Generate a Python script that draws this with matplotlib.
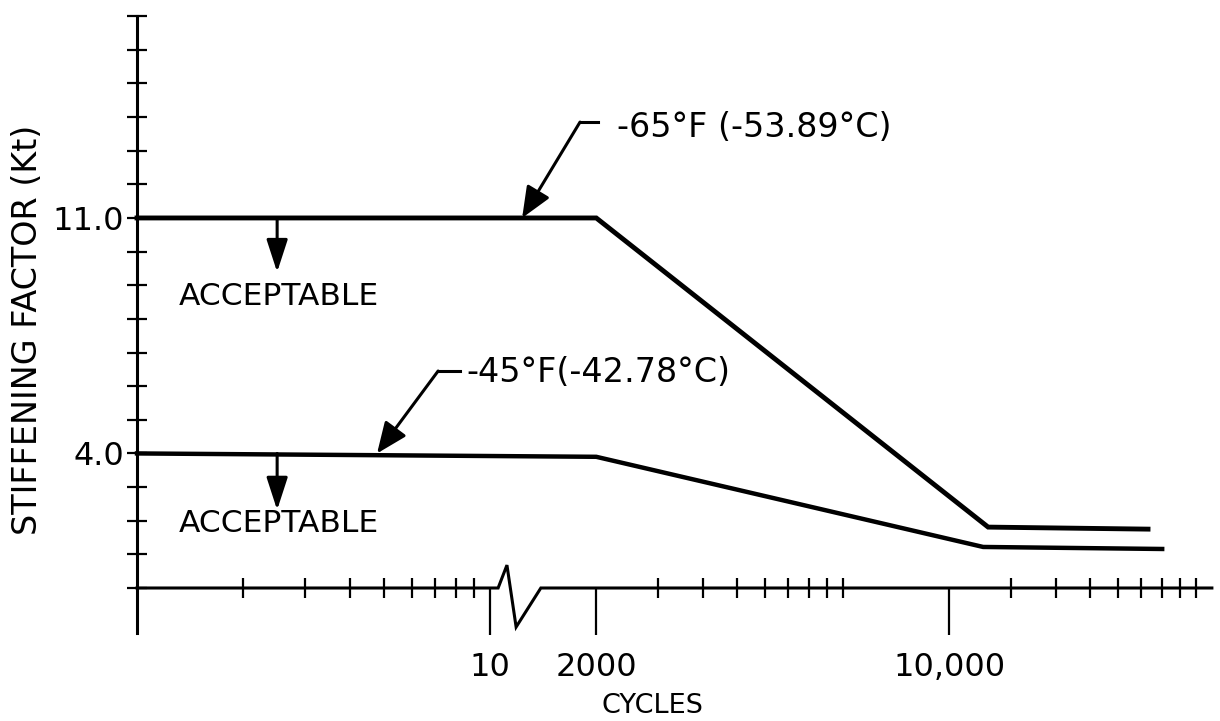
import numpy as np
import matplotlib
matplotlib.use("Agg")
import matplotlib.pyplot as plt

# curves (cycles, stiffening factor Kt)
cyc_65 = [1, 2000, 11940, 24750]
kt_65 = [11.0, 11.0, 1.81, 1.75]
cyc_45 = [1, 2000, 11670, 26400]
kt_45 = [4.0, 3.9, 1.22, 1.16]

x_major = [10, 2000, 10000]
x_major_labels = ["10", "2000", "10,000"]
y_ticks = list(range(0, 18))
y_tick_labels = ["11.0" if t == 11 else "4.0" if t == 4 else "" for t in y_ticks]

# the cycle axis is broken and drawn in "decades" of equal length
AX_LOG = [0, 1, np.log10(2000), 4, 5]
AX_POS = [0, 1, 1 + np.log10(2), 2 + np.log10(2), 2 + np.log10(2) + 1 / np.log10(5)]


def pos(c):
    return np.interp(np.log10(c), AX_LOG, AX_POS)


# ruler marks of the drawn axis
k = np.arange(2, 11)
minor_pos = list(np.log10(k[:-1])) + list(1 + np.log10(k[1:])) + list(2 + np.log10(k[1:]))

plt.rcParams["font.family"] = "DejaVu Sans"
fig = plt.figure(figsize=(12.2, 7.21), dpi=100)
ax = fig.add_axes([0, 0, 1, 1])
ax.set_xlim(-137 / 353, (1220 - 137) / 353)
ax.set_ylim((588 - 721) / 33.64, 588 / 33.64)

for s in ["top", "right"]:
    ax.spines[s].set_visible(False)
ax.spines["left"].set_position(("data", 0))
ax.spines["left"].set_bounds(-1.33, 17)
ax.spines["left"].set_linewidth(2.2)
ax.spines["bottom"].set_position(("data", 0))
ax.spines["bottom"].set_visible(False)

# x axis line with the break symbol
ax.plot([0, 1.023, 1.048, 1.074, 1.144, 3.045], [0, 0, 0.68, -1.16, 0, 0],
        color="black", lw=2.2, solid_joinstyle="miter", clip_on=False)

ax.set_xticks([pos(c) for c in x_major], x_major_labels)
ax.set_xticks(minor_pos, minor=True)
ax.set_yticks(y_ticks, y_tick_labels)
ax.tick_params(axis="x", which="major", direction="out", length=34, width=1.6,
               pad=12, labelsize=23)
ax.tick_params(axis="x", which="minor", direction="inout", length=14, width=1.6)
ax.tick_params(axis="y", direction="inout", length=14.4, width=1.6, pad=2,
               labelsize=23)

ax.set_xlabel("CYCLES", fontsize=19.5)
ax.xaxis.set_label_coords(652 / 1220, 1 - 713 / 721)
ax.xaxis.label.set_va("baseline")
ax.set_ylabel("STIFFENING FACTOR (Kt)", fontsize=24)
ax.yaxis.set_label_coords(28 / 1220, 1 - 330 / 721)
ax.yaxis.label.set_va("center")

ax.plot(pos(np.array(cyc_65)), kt_65, color="black", lw=3.5, solid_joinstyle="miter")
ax.plot(pos(np.array(cyc_45)), kt_45, color="black", lw=3.2, solid_joinstyle="miter")

# leader arrows with labels
head = "-|>,head_length=1.9,head_width=0.8"
ax.annotate("", xy=(1.091, 11.0), xytext=(1.255, 13.85),
            arrowprops=dict(arrowstyle=head, color="black", lw=2.2,
                            mutation_scale=10, shrinkA=0, shrinkB=0))
ax.plot([1.255, 1.306], [13.85, 13.85], color="black", lw=2.2)
ax.text(1.360, 13.41, "-65°F (-53.89°C)", fontsize=24, va="baseline")

ax.annotate("", xy=(0.680, 4.0), xytext=(0.853, 6.45),
            arrowprops=dict(arrowstyle=head, color="black", lw=2.2,
                            mutation_scale=10, shrinkA=0, shrinkB=0))
ax.plot([0.853, 0.915], [6.45, 6.45], color="black", lw=2.2)
ax.text(0.932, 6.12, "-45°F(-42.78°C)", fontsize=24, va="baseline")

down = "-|>,head_length=2.0,head_width=0.65"
for top, tip, base in [(11.0, 9.39, 8.41), (4.0, 2.32, 1.665)]:
    ax.annotate("", xy=(0.397, tip), xytext=(0.397, top),
                arrowprops=dict(arrowstyle=down, color="black", lw=2.2,
                                mutation_scale=10, shrinkA=0, shrinkB=0))
    ax.text(0.401, base, "ACCEPTABLE", fontsize=22.5, ha="center", va="baseline")

fig.savefig("out.png", dpi=100)
